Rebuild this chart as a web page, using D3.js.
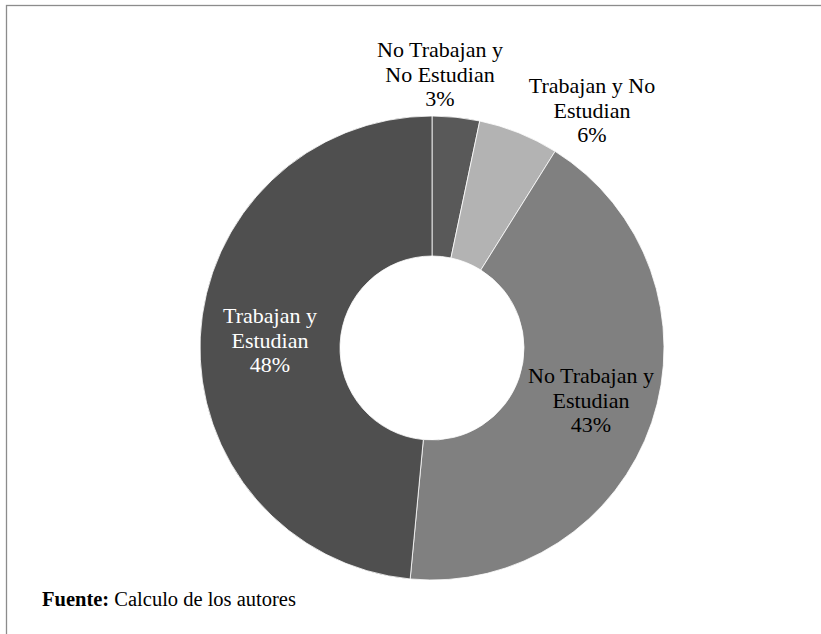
<!DOCTYPE html>
<html><head><meta charset="utf-8">
<script src="https://cdn.jsdelivr.net/npm/d3@7"></script>
<style>body{margin:0;background:#fff;} svg{display:block;}</style>
</head><body>
<svg id="c" width="821" height="634"></svg>
<script>
const categories = ["No Trabajan y No Estudian","Trabajan y No Estudian","No Trabajan y Estudian","Trabajan y Estudian"];
const values = [3.3, 5.6, 42.6, 48.5];
const percentLabels = ["3%","6%","43%","48%"];
const labelLines = [["No Trabajan y","No Estudian"],["Trabajan y No","Estudian"],["No Trabajan y","Estudian"],["Trabajan y","Estudian"]];
const colors = ["#595959","#b3b3b3","#808080","#4f4f4f"];
const labelColors = ["#000","#000","#000","#fff"];
// label anchor positions (center x, first baseline y) in px
const labelPos = [[440,57],[592,93],[591,383],[270,323]];

const svg = d3.select("#c");
svg.append("rect").attr("x",6.5).attr("y",5.5).attr("width",830).attr("height",660)
  .attr("fill","none").attr("stroke","#8c8c8c").attr("stroke-width",1.3);

const cx=432, cy=348, R=232, r=92;
const pie = d3.pie().sort(null).value(d=>d)(values);
const arc = d3.arc().innerRadius(r).outerRadius(R);
const g = svg.append("g").attr("transform",`translate(${cx},${cy})`);
g.selectAll("path").data(pie).join("path")
  .attr("d",arc).attr("fill",(d,i)=>colors[i]).attr("stroke","#fff").attr("stroke-width",0.8);

const lg = svg.append("g").attr("font-family","'Liberation Serif','Times New Roman',serif").attr("font-size",22).attr("text-anchor","middle");
categories.forEach((c,i)=>{
  const lines = labelLines[i].concat([percentLabels[i]]);
  const t = lg.append("text").attr("fill",labelColors[i]);
  lines.forEach((l,j)=>{
    t.append("tspan").attr("x",labelPos[i][0]).attr("y",labelPos[i][1]+j*24.5).text(l);
  });
});

const f = svg.append("text").attr("x",42).attr("y",606).attr("font-family","'Liberation Serif','Times New Roman',serif").attr("font-size",20.5).attr("fill","#000");
f.append("tspan").attr("font-weight","bold").text("Fuente:");
f.append("tspan").text(" Calculo de los autores");
</script>
</body></html>
